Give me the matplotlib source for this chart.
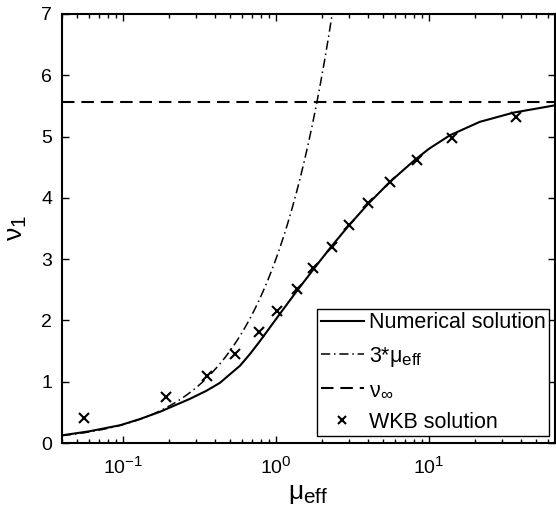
import numpy as np
import matplotlib
matplotlib.use("Agg")
import matplotlib.pyplot as plt
import matplotlib._mathtext as _mt
from matplotlib.ticker import LogLocator, FixedLocator

plt.rcParams['font.family'] = ['Liberation Sans', 'DejaVu Sans']
plt.rcParams['mathtext.fontset'] = 'custom'
plt.rcParams['mathtext.rm'] = 'Liberation Sans'
plt.rcParams['mathtext.it'] = 'Liberation Sans'
plt.rcParams['mathtext.bf'] = 'Liberation Sans:bold'
plt.rcParams['font.size'] = 14
# slightly larger sub/superscripts
_mt.SHRINK_FACTOR = 0.78

# Numerical solution of the eigenvalue nu_1 versus mu_eff
mu_num = [0.04, 0.06, 0.096, 0.129, 0.175, 0.274, 0.35, 0.43, 0.50, 0.582,
          0.676, 0.785, 1.035, 1.37, 1.845, 2.31, 3.0, 4.0, 5.56, 8.1,
          10.0, 13.7, 21.5, 35.6, 66.7]
nu_num = [0.125, 0.19, 0.29, 0.39, 0.51, 0.72, 0.85, 0.98, 1.12, 1.26,
          1.45, 1.66, 2.07, 2.48, 2.90, 3.21, 3.55, 3.90, 4.26, 4.62,
          4.80, 5.02, 5.24, 5.39, 5.51]

# WKB approximation
mu_wkb = [0.0556, 0.191, 0.356, 0.542, 0.771, 1.01, 1.37, 1.75, 2.31,
          3.01, 4.01, 5.56, 8.32, 14.2, 36.9]
nu_wkb = [0.40, 0.755, 1.10, 1.447, 1.806, 2.15, 2.51, 2.85, 3.20,
          3.556, 3.92, 4.26, 4.62, 4.97, 5.32]

# Small-mu asymptote and large-mu limit
slope_small = 3.0
nu_inf = 5.56

x_min, x_max = 0.04, 66.7
y_min, y_max = 0, 7

fig = plt.figure(figsize=(5.56, 5.15), dpi=100)
ax = fig.add_axes([62 / 556, 1 - 443 / 515, (555 - 62) / 556, (443 - 14) / 515])

ax.plot(mu_num, nu_num, '-', color='black', lw=1.5, label='Numerical solution')
mu_lin = np.geomspace(x_min, 2.4, 200)
ax.plot(mu_lin, slope_small * mu_lin, color='black', lw=1.1,
        dashes=[6, 2.5, 1, 2.5], label=r'3*$\mathregular{\mu_{eff}}$')
ax.plot([x_min, x_max], [nu_inf, nu_inf], color='black', lw=1.5,
        dashes=[6, 3.3], label=r'$\mathregular{\nu_\infty}$')
ax.plot(mu_wkb, nu_wkb, 'x', color='black', ms=7, mew=1.5, ls='none',
        label='WKB solution')

ax.set_xscale('log')
ax.set_xlim(x_min, x_max)
ax.set_ylim(y_min, y_max)
ax.yaxis.set_major_locator(FixedLocator(range(0, 8)))
ax.xaxis.set_major_locator(LogLocator(base=10, numticks=10))
ax.xaxis.set_minor_locator(LogLocator(base=10, subs=np.arange(2, 10), numticks=10))

for s in ax.spines.values():
    s.set_linewidth(1.5)
ax.tick_params(which='both', direction='in', top=True, right=True,
               labelsize=14, width=1.0)
ax.tick_params(axis='x', pad=10)
ax.tick_params(axis='y', pad=7)
ax.tick_params(which='major', length=5)
ax.tick_params(which='minor', length=3)

ax.set_xlabel(r'$\mathregular{\mu_{eff}}$', fontsize=19, labelpad=3)
ax.set_ylabel(r'$\mathregular{\nu_1}$', fontsize=19, labelpad=9)

leg = ax.legend(loc='lower right', bbox_to_anchor=(0.988, 0.016), frameon=True,
                fancybox=False, edgecolor='black', framealpha=1, fontsize=15.5,
                handlelength=2.0, handletextpad=0.25, labelspacing=0.52,
                borderpad=0.15, borderaxespad=0, markerscale=0.75)
leg.get_frame().set_linewidth(1.0)

fig.savefig('out.png', dpi=100)
